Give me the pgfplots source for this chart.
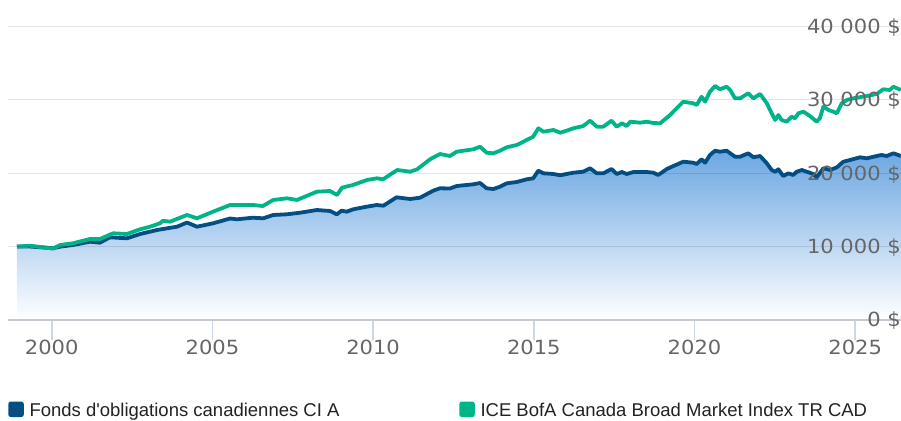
\documentclass[border=0pt]{standalone}
\usepackage{fontspec}
\setmainfont{Liberation Sans}
\newfontfamily\tickfont[FakeStretch=1.08]{DejaVu Sans}
\usepackage{pgfplots}
\usepackage{pgfplotstable}
\pgfplotsset{compat=1.18}
\definecolor{fund}{HTML}{034F84}
\definecolor{idx}{HTML}{00B48A}
\definecolor{filltop}{HTML}{6CA7E2}
\definecolor{tickgray}{HTML}{666666}
\definecolor{axisgray}{HTML}{C4C8CF}
\definecolor{tickblue}{HTML}{CCD6EB}
\definecolor{legtext}{HTML}{222222}

\pgfplotstableread{
year value
1998.92 10000
1999.32 10010
1999.73 9880
2000.04 9770
2000.26 9990
2000.66 10218
2001.19 10668
2001.50 10531
2001.81 11267
2002.34 11131
2002.75 11717
2003.28 12262
2003.59 12493
2003.90 12711
2004.21 13283
2004.52 12711
2005.02 13174
2005.55 13828
2005.76 13719
2006.26 13937
2006.58 13856
2006.89 14305
2007.32 14401
2007.73 14619
2008.25 14986
2008.66 14850
2008.87 14401
2009.02 14891
2009.18 14755
2009.38 15082
2009.80 15436
2010.11 15668
2010.32 15572
2010.73 16717
2011.15 16485
2011.46 16662
2011.87 17616
2012.08 17943
2012.39 17916
2012.60 18256
2013.12 18488
2013.33 18665
2013.53 17943
2013.74 17847
2013.95 18161
2014.16 18624
2014.47 18801
2014.78 19169
2014.98 19305
2015.14 20341
2015.30 19986
2015.61 19891
2015.82 19714
2016.02 19891
2016.23 20068
2016.54 20204
2016.75 20668
2016.96 19986
2017.16 19986
2017.42 20572
2017.58 19891
2017.74 20164
2017.89 19891
2018.10 20164
2018.51 20164
2018.72 20068
2018.87 19755
2019.14 20572
2019.24 20777
2019.65 21567
2019.96 21431
2020.07 21253
2020.22 21894
2020.33 21431
2020.48 22480
2020.64 23065
2020.79 22929
2021.00 23065
2021.11 22711
2021.26 22248
2021.42 22248
2021.67 22711
2021.83 22166
2022.04 22343
2022.25 21349
2022.40 20436
2022.51 20204
2022.61 20531
2022.76 19619
2022.92 19986
2023.07 19755
2023.18 20204
2023.34 20436
2023.49 20204
2023.70 19891
2023.80 19441
2024.01 20668
2024.22 20436
2024.43 20804
2024.63 21567
2024.84 21798
2025.15 22166
2025.36 22030
2025.67 22343
2025.82 22480
2025.98 22343
2026.19 22711
2026.42 22343
}\fundtable

\pgfplotstableread{
year value
1998.92 10000
1999.32 10123
1999.73 9905
2000.04 9741
2000.26 10218
2000.66 10450
2001.19 11035
2001.50 11035
2001.91 11812
2002.34 11717
2002.75 12357
2003.06 12711
2003.37 13174
2003.46 13529
2003.68 13392
2004.21 14305
2004.52 13856
2005.02 14755
2005.55 15668
2005.76 15668
2006.26 15668
2006.57 15531
2006.89 16349
2007.32 16580
2007.63 16349
2008.25 17480
2008.66 17575
2008.88 17030
2009.03 18025
2009.37 18392
2009.81 19074
2010.12 19305
2010.31 19169
2010.75 20436
2011.15 20204
2011.37 20531
2011.77 21894
2012.08 22616
2012.39 22343
2012.60 22929
2013.12 23256
2013.33 23610
2013.53 22793
2013.74 22711
2013.95 23065
2014.16 23529
2014.47 23842
2014.78 24523
2014.98 24973
2015.14 26117
2015.30 25654
2015.61 25886
2015.82 25518
2016.02 25790
2016.23 26117
2016.54 26431
2016.75 27153
2016.96 26335
2017.16 26335
2017.42 27153
2017.58 26335
2017.74 26798
2017.89 26431
2018.00 27016
2018.31 26880
2018.51 27016
2018.72 26839
2018.93 26798
2019.24 27929
2019.65 29741
2019.96 29523
2020.07 29292
2020.22 30422
2020.33 29741
2020.48 31104
2020.64 31880
2020.79 31431
2021.00 31785
2021.11 31335
2021.26 30204
2021.42 30204
2021.67 30886
2021.83 30204
2022.04 30790
2022.25 29523
2022.40 28161
2022.51 27248
2022.61 27929
2022.71 27248
2022.87 27016
2023.02 27698
2023.13 27480
2023.23 28161
2023.39 28379
2023.59 27793
2023.80 27016
2023.90 27480
2024.01 29060
2024.17 28610
2024.32 28379
2024.43 28161
2024.58 29523
2024.74 29973
2024.94 30204
2025.36 30518
2025.67 30790
2025.87 31431
2026.08 31335
2026.19 31785
2026.42 31335
}\idxtable

\begin{document}
\begin{tikzpicture}[x=1pt,y=1pt]
\path[use as bounding box] (-8,-100) rectangle (893,320);
\begin{axis}[
  at={(0,0)}, anchor=south west,
  scale only axis, width=893pt, height=320pt,
  xmin=1998.640, xmax=2026.425, ymin=0, ymax=43597,
  axis on top,
  axis x line*=bottom, axis y line*=right,
  x axis line style={-, draw=axisgray, line width=2.5pt},
  y axis line style={draw=none},
  ytick={0,10000,20000,30000,40000},
  yticklabels={{0 \$},{10 000 \$},{20 000 \$},{30 000 \$},{40 000 \$}},
  ytick style={draw=none},
  ymajorgrids,
  major grid style={draw=black, opacity=0.1, line width=1.3pt},
  yticklabel style={anchor=east, inner sep=0pt, xshift=-20pt, yshift=-1pt,
    font=\tickfont\fontsize{19.5}{20}\selectfont, text=tickgray},
  xtick={2000,2005,2010,2015,2020,2025},
  xticklabels={2000,2005,2010,2015,2020,2025},
  xtick style={draw=tickblue, line width=1.6pt},
  tick align=outside, major tick length=20pt,
  xticklabel style={anchor=north, inner sep=0pt,
    font=\tickfont\fontsize{19.5}{20}\selectfont, text=tickgray},
  clip=true,
  legend columns=2,
  legend cell align=left,
  legend image code/.code={\fill[#1, draw=none, rounded corners=2.5pt] (0pt,-0.35pt) rectangle (15.5pt,15.15pt);},
  legend style={at={(axis description cs:0,0)}, anchor=north west,
    xshift=0.3pt, yshift=-81.55pt,
    draw=none, fill=none, inner sep=0pt, outer sep=0pt,
    /tikz/column sep=0pt, row sep=0pt,
    nodes={inner sep=0pt, anchor=base west, font=\fontsize{18.5}{20}\selectfont, text=legtext},
    /tikz/every odd column/.append style={column sep=5.7pt},
    /tikz/every even column/.append style={column sep=0pt}},
]
\addplot[draw=none, top color=filltop, bottom color=white, forget plot] table[x=year,y=value] {\fundtable} \closedcycle;
\addplot[color=fund, line width=3.8pt, line join=round] table[x=year,y=value] {\fundtable};
\addlegendentry{\makebox[429.8pt][l]{Fonds d\textquotesingle obligations canadiennes CI A}}
\addplot[color=idx, line width=3.8pt, line join=round] table[x=year,y=value] {\idxtable};
\addlegendentry{ICE BofA Canada Broad Market Index TR CAD}
\end{axis}
\end{tikzpicture}
\end{document}
